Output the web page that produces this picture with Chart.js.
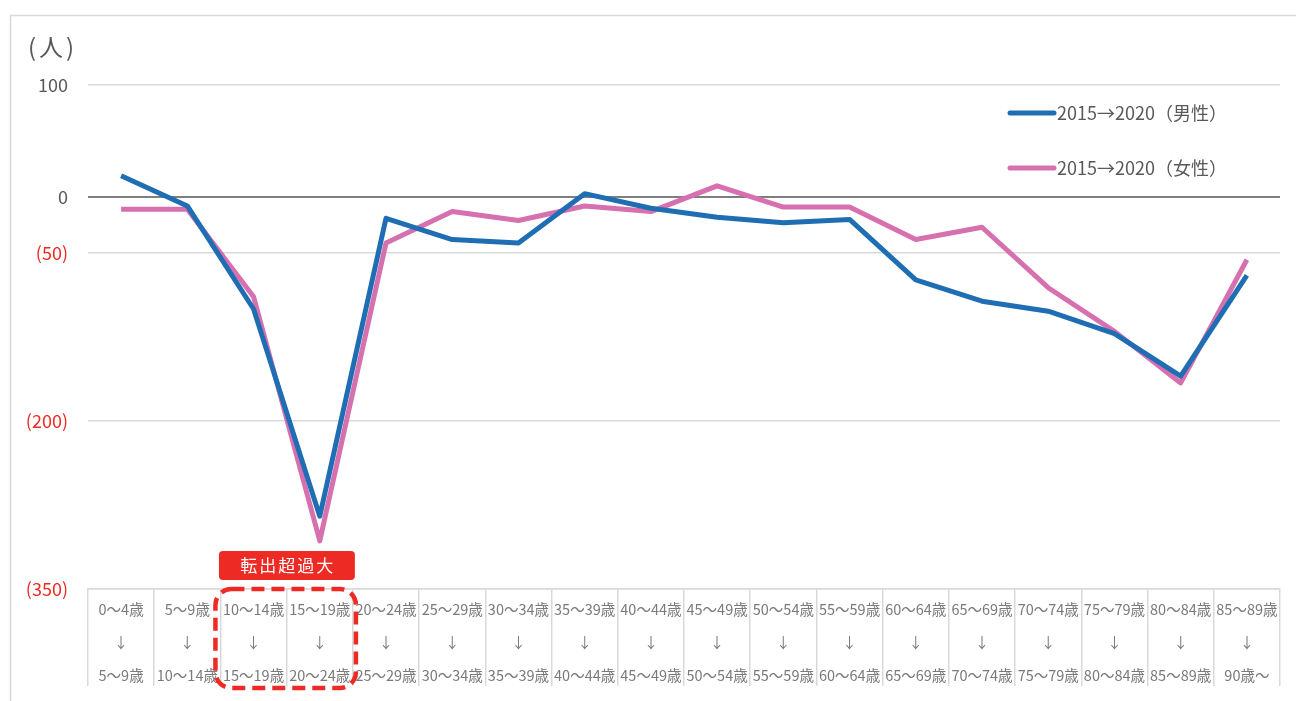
<!DOCTYPE html>
<html>
<head>
<meta charset="utf-8">
<script src="https://cdn.jsdelivr.net/npm/chart.js@4.4.1/dist/chart.umd.min.js"></script>
<style>
  html, body { margin: 0; padding: 0; background: #ffffff; }
  #wrap { position: relative; width: 1296px; height: 701px; }
</style>
</head>
<body>
<div id="wrap"><canvas id="c" width="1296" height="701"></canvas></div>
<script>
const fromAges = ['0～4歳','5～9歳','10～14歳','15～19歳','20～24歳','25～29歳','30～34歳','35～39歳','40～44歳','45～49歳','50～54歳','55～59歳','60～64歳','65～69歳','70～74歳','75～79歳','80～84歳','85～89歳'];
const toAges = ['5～9歳','10～14歳','15～19歳','20～24歳','25～29歳','30～34歳','35～39歳','40～44歳','45～49歳','50～54歳','55～59歳','60～64歳','65～69歳','70～74歳','75～79歳','80～84歳','85～89歳','90歳～'];
const maleValues = [19, -8, -100, -285, -19, -38, -41, 3, -10, -18, -23, -20, -74, -93, -102, -122, -160, -70];
const femaleValues = [-11, -11, -89, -307, -41, -13, -21, -8, -13, 10, -9, -9, -38, -27, -81, -120, -166, -56];
const yTickValues = [100, 0, -50, -200, -350];
const seriesNames = ['2015→2020（男性）', '2015→2020（女性）'];
const unitLabel = '(人)';
const calloutText = '転出超過大';
const calloutCategories = [2, 3];

const FONT = "'Noto Sans CJK JP', 'Noto Sans', sans-serif";
const categories = fromAges.map((f, i) => [f, '↓', toAges[i]]);

const decorPlugin = {
  id: 'decor',
  beforeDraw(chart) {
    const ctx = chart.ctx;
    ctx.save();
    ctx.fillStyle = '#ffffff';
    ctx.fillRect(0, 0, chart.width, chart.height);
    ctx.strokeStyle = '#d9d9d9';
    ctx.lineWidth = 1.5;
    ctx.strokeRect(10.5, 15.5, chart.width + 20, chart.height + 20);
    ctx.restore();
  },
  afterDraw(chart) {
    const ctx = chart.ctx;
    const xs = chart.scales.x;
    const cw = xs.width / categories.length;
    ctx.save();
    // unit label
    ctx.fillStyle = '#595959';
    ctx.font = '24px ' + FONT;
    ctx.textBaseline = 'middle';
    ctx.textAlign = 'left';
    ctx.letterSpacing = '3px';
    ctx.fillText(unitLabel, 28, 47);
    ctx.letterSpacing = '0px';

    // legend
    chart.data.datasets.forEach((ds, i) => {
      const y = 113 + i * 55;
      ctx.strokeStyle = ds.borderColor;
      ctx.lineWidth = 5;
      ctx.lineCap = 'round';
      ctx.beginPath();
      ctx.moveTo(1010, y);
      ctx.lineTo(1054, y);
      ctx.stroke();
      ctx.fillStyle = '#595959';
      ctx.font = '18px ' + FONT;
      ctx.textBaseline = 'middle';
      ctx.fillText(ds.label, 1057, y);
    });

    // callout
    const left = xs.getPixelForValue(calloutCategories[0]) - cw / 2;
    const right = xs.getPixelForValue(calloutCategories[1]) + cw / 2;
    const red = '#EE2A24';
    ctx.fillStyle = red;
    ctx.beginPath();
    ctx.roundRect(left - 1.5, 551, right - left + 3.5, 29, 4);
    ctx.fill();
    ctx.fillStyle = '#ffffff';
    ctx.font = '17px ' + FONT;
    ctx.textAlign = 'center';
    ctx.textBaseline = 'middle';
    ctx.letterSpacing = '2px';
    ctx.fillText(calloutText, (left + right) / 2 + 1, 566);
    ctx.letterSpacing = '0px';

    ctx.strokeStyle = red;
    ctx.lineWidth = 4.5;
    ctx.lineCap = 'butt';
    ctx.setLineDash([13, 7]);
    ctx.beginPath();
    ctx.roundRect(left - 5, 589, right - left + 8, 99, 16);
    ctx.stroke();
    ctx.restore();
  }
};

new Chart(document.getElementById('c'), {
  type: 'line',
  data: {
    labels: categories,
    datasets: [
      { label: seriesNames[0], data: maleValues, borderColor: '#1F6EB4', backgroundColor: '#1F6EB4', borderWidth: 5, pointRadius: 0, tension: 0, borderJoinStyle: 'round' },
      { label: seriesNames[1], data: femaleValues, borderColor: '#D670AE', backgroundColor: '#D670AE', borderWidth: 5, pointRadius: 0, tension: 0, borderJoinStyle: 'round' }
    ]
  },
  options: {
    responsive: false,
    animation: false,
    devicePixelRatio: 1,
    layout: { padding: { top: 85, right: 16, left: 0, bottom: 0 } },
    plugins: { legend: { display: false }, tooltip: { enabled: false } },
    scales: {
      x: {
        offset: true,
        grid: { offset: true, drawOnChartArea: false, tickLength: 97, color: '#d9d9d9', lineWidth: 1.5 },
        border: { display: true, color: '#d9d9d9', width: 1.5 },
        ticks: {
          autoSkip: false, maxRotation: 0, minRotation: 0,
          color: '#7a7a7a',
          font: { family: FONT, size: 14.5, lineHeight: 33 / 14.5 },
          padding: -93.5
        },
        afterFit(s) { s.height = 112; }
      },
      y: {
        min: -350, max: 100,
        afterBuildTicks(s) { s.ticks = yTickValues.map(v => ({ value: v })); },
        grid: {
          drawTicks: false,
          color: c => (c.tick && c.tick.value === 0) ? '#7f7f7f' : '#d9d9d9',
          lineWidth: c => (c.tick && c.tick.value === 0) ? 2 : 1.5
        },
        border: { display: false },
        ticks: {
          padding: 20,
          font: { family: FONT, size: 18 },
          color: c => (c.tick && c.tick.value < 0) ? '#EE2A24' : '#595959',
          callback: v => v < 0 ? '(' + (-v) + ')' : String(v)
        },
        afterFit(s) { s.width = 88; }
      }
    }
  },
  plugins: [decorPlugin]
});
</script>
</body>
</html>
